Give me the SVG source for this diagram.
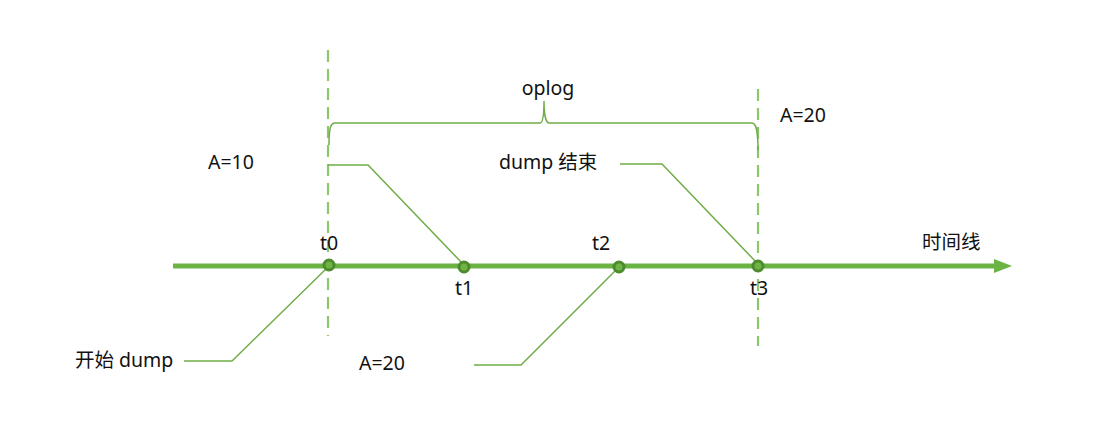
<svg xmlns="http://www.w3.org/2000/svg" width="1094" height="433" viewBox="0 0 1094 433">
<style>
text{font-family:"Noto Sans","Open Sans","Noto Sans CJK SC",sans-serif;font-size:19.5px;fill:#111}
.dash{stroke:#8cc86a;stroke-width:2.2;stroke-dasharray:12,7;fill:none}
.lead{stroke:#70ad47;stroke-width:1.5;fill:none}
.axis{stroke:#6ab344;stroke-width:5;fill:none}
.node{fill:#6fb545;stroke:#4e8a2e;stroke-width:3}
</style>
<rect width="1094" height="433" fill="#fff"/>
<g id="connectors">
<line class="dash" x1="328" y1="50" x2="328" y2="336"/>
<line class="dash" x1="758" y1="89" x2="758" y2="346"/>
<line class="axis" x1="173" y1="266" x2="995" y2="266"/>
<path d="M994,259 L1012,266 L994,273 Z" fill="#6ab344"/>
<path class="lead" d="M329,145 C329,130 330,123 335,123 L540,123 C543,123 544,115 544,101 C544,115 546,123 549,123 L752,123 C756,123 758,130 758,150"/>
<polyline class="lead" points="328,165 368,165 463,264"/>
<polyline class="lead" points="620,164 662,164 757,263"/>
<polyline class="lead" points="184,361 232,361 327,268"/>
<polyline class="lead" points="474,365 521,365 617,269"/>
</g>
<g id="t0"><circle class="node" cx="329" cy="265" r="5"/><text x="329" y="250" text-anchor="middle">t0</text></g>
<g id="t1"><circle class="node" cx="464" cy="267" r="5"/><text x="464" y="295" text-anchor="middle">t1</text></g>
<g id="t2"><circle class="node" cx="619" cy="267" r="5"/><text x="601" y="250" text-anchor="middle">t2</text></g>
<g id="t3"><circle class="node" cx="758" cy="266" r="5"/><text x="759" y="295" text-anchor="middle">t3</text></g>
<g id="labels">
<text x="548" y="95" text-anchor="middle">oplog</text>
<text x="780" y="122">A=20</text>
<text x="208" y="169">A=10</text>
<text x="499" y="169">dump 结束</text>
<text x="922" y="249">时间线</text>
<text x="75" y="367">开始 dump</text>
<text x="359" y="370">A=20</text>
</g>
</svg>
